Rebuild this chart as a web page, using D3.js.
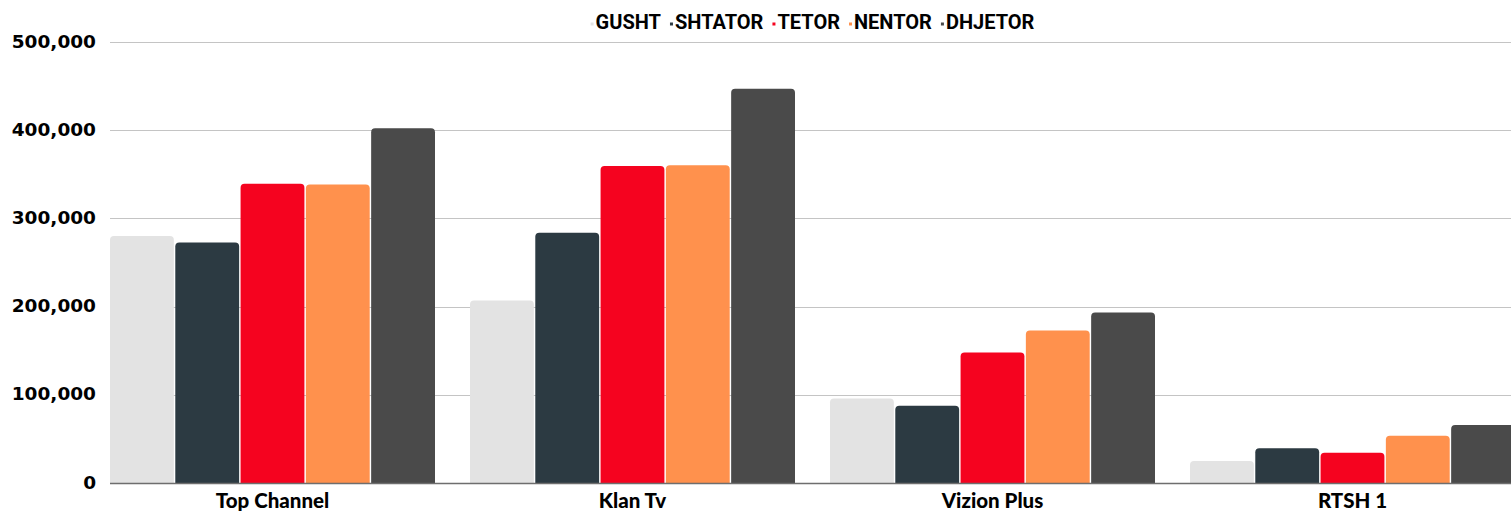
<!DOCTYPE html>
<html>
<head>
<meta charset="utf-8">
<script src="https://cdn.jsdelivr.net/npm/d3@7"></script>
<style>
  html, body { margin: 0; padding: 0; background: #ffffff; }
  svg { display: block; }
</style>
</head>
<body>
<svg id="chart" width="1511" height="512"></svg>
<script>
// ---- data ----
const categories = ["Top Channel", "Klan Tv", "Vizion Plus", "RTSH 1"];
const seriesNames = ["GUSHT", "SHTATOR", "TETOR", "NENTOR", "DHJETOR"];
const gusht   = [280000, 207000,  95800, 25000];
const shtator = [272700, 283600,  87500, 39300];
const tetor   = [339300, 359400, 148000, 34400];
const nentor  = [338500, 360200, 173000, 53700];
const dhjetor = [402300, 447000, 193200, 65900];
const yTicks  = [0, 100000, 200000, 300000, 400000, 500000];
const seriesColors = ["#e3e3e3", "#2c3a42", "#f5031f", "#ff914d", "#4a4a4a"];

const seriesValues = [gusht, shtator, tetor, nentor, dhjetor];

// ---- layout ----
const W = 1511, H = 512;
const margin = { left: 110, right: -4, top: 42, bottom: 29 };
const svg = d3.select("#chart");

const x0 = d3.scaleBand()
  .domain(categories)
  .range([margin.left, W - margin.right])
  .paddingInner(35 / 360)
  .paddingOuter(0)
  .align(0);

const x1 = d3.scaleBand()
  .domain(seriesNames)
  .range([0, x0.bandwidth()])
  .paddingInner(0.022);

const y = d3.scaleLinear()
  .domain([0, 500000])
  .range([H - margin.bottom, margin.top]);

const color = d3.scaleOrdinal().domain(seriesNames).range(seriesColors);

// ---- gridlines ----
const grid = svg.append("g")
  .attr("transform", `translate(${margin.left},0)`)
  .call(d3.axisLeft(y).tickValues(yTicks).tickSize(-(W - margin.left)).tickFormat(""));
grid.select(".domain").remove();
grid.selectAll(".tick line").attr("stroke", "#c4c4c4").attr("stroke-width", 1)
  .attr("shape-rendering", "crispEdges");
grid.selectAll(".tick").filter(d => d === 0).remove();

// ---- y labels ----
const yAxis = svg.append("g")
  .attr("transform", `translate(96,0)`)
  .call(d3.axisLeft(y).tickValues(yTicks).tickSize(0).tickPadding(0)
    .tickFormat(d3.format(",")));
yAxis.select(".domain").remove();
yAxis.selectAll("text")
  .attr("font-family", "'DejaVu Sans', sans-serif")
  .attr("font-weight", "bold")
  .attr("font-size", 18.5)
  .attr("fill", "#000")
  .attr("dy", "0.28em");

// ---- bars ----
const r = 4;
function barPath(x, yTop, w, yBase) {
  const h = yBase - yTop;
  const rr = Math.min(r, h / 2, w / 2);
  return `M${x},${yBase}V${yTop + rr}Q${x},${yTop} ${x + rr},${yTop}` +
         `H${x + w - rr}Q${x + w},${yTop} ${x + w},${yTop + rr}V${yBase}Z`;
}

const rows = categories.map((c, i) => ({
  cat: c,
  vals: seriesNames.map((s, j) => ({ key: s, value: seriesValues[j][i] }))
}));

const groups = svg.append("g").selectAll("g")
  .data(rows).join("g")
  .attr("transform", d => `translate(${x0(d.cat)},0)`);

groups.selectAll("path")
  .data(d => d.vals).join("path")
  .attr("d", d => barPath(x1(d.key), y(d.value), x1.bandwidth(), y(0)))
  .attr("fill", d => color(d.key));

// ---- baseline ----
svg.append("line")
  .attr("x1", margin.left).attr("x2", W)
  .attr("y1", y(0) + 0.5).attr("y2", y(0) + 0.5)
  .attr("stroke", "#6e6e6e").attr("stroke-width", 1.6);

// ---- x labels ----
const xAxis = svg.append("g")
  .attr("transform", `translate(0,${y(0)})`)
  .call(d3.axisBottom(x0).tickSize(0).tickPadding(0));
xAxis.select(".domain").remove();
xAxis.selectAll("text")
  .attr("font-family", "Lato, sans-serif")
  .attr("font-weight", 900)
  .attr("font-size", 20.5)
  .attr("fill", "#000")
  .attr("dy", "1.22em");

// ---- legend ----
const legend = svg.append("g");
const items = legend.selectAll("g").data(seriesNames).join("g");
items.append("rect")
  .attr("width", 3).attr("height", 3)
  .attr("y", 22.5)
  .attr("fill", d => color(d));
items.append("text")
  .attr("x", 5).attr("y", 29)
  .attr("font-family", "Roboto, sans-serif")
  .attr("font-weight", 700)
  .attr("font-size", 20)
  .attr("fill", "#000")
  .text(d => d);
let cursor = 0;
const offsets = [];
items.each(function () {
  offsets.push(cursor);
  const tw = d3.select(this).select("text").node().getComputedTextLength();
  cursor += 5 + tw + 9;
});
const totalW = cursor - 9;
const legendStart = (margin.left + W - margin.right) / 2 - totalW / 2;
items.attr("transform", (d, i) => `translate(${legendStart + offsets[i]},0)`);
</script>
</body>
</html>
